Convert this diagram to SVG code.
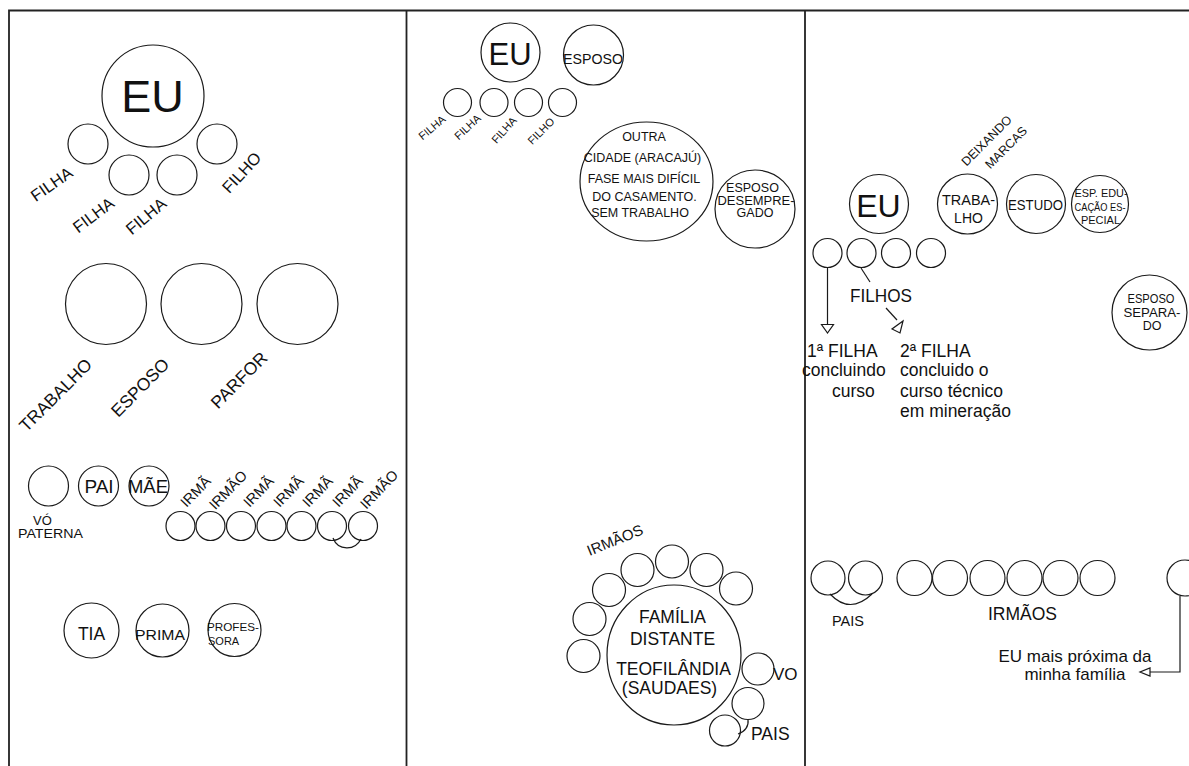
<svg xmlns="http://www.w3.org/2000/svg" width="1189" height="766" viewBox="0 0 1189 766">
<style>
.frame{fill:none;stroke:#222;stroke-width:1.8}
.c{fill:none;stroke:#1a1a1a;stroke-width:1.2}
.ln{fill:none;stroke:#1a1a1a;stroke-width:1.2}
.ah{fill:#fff;stroke:#1a1a1a;stroke-width:1.2}
text{font-family:"Liberation Sans",Arial,sans-serif;fill:#111}
.m{text-anchor:middle}
</style>
<rect width="1189" height="766" fill="#fff"/>
<g id="frame">
<path class="frame" d="M9 780 V10.5 H1195 M406.5 10.5 V780 M805 10.5 V780"/>
</g>

<!-- Panel 1 -->
<g id="p1-eu"><circle class="c" cx="153" cy="96" r="51"/><text class="m" x="152.5" y="112" font-size="45">EU</text></g>
<g id="p1-filha1"><circle class="c" cx="88" cy="144" r="20"/><text class="m" font-size="16.5" transform="translate(51.5,184) rotate(-35)" dy="0.35em">FILHA</text></g>
<g id="p1-filha2"><circle class="c" cx="129" cy="175" r="20"/><text class="m" font-size="16.5" transform="translate(93.5,215) rotate(-37)" dy="0.35em">FILHA</text></g>
<g id="p1-filha3"><circle class="c" cx="177" cy="175" r="20"/><text class="m" font-size="16.5" transform="translate(146,216) rotate(-40)" dy="0.35em">FILHA</text></g>
<g id="p1-filho"><circle class="c" cx="217" cy="144" r="20"/><text class="m" font-size="16.5" transform="translate(241.5,172.5) rotate(-47)" dy="0.35em">FILHO</text></g>

<g id="p1-trabalho"><circle class="c" cx="106" cy="304" r="40.5"/><text class="m" font-size="17.5" transform="translate(55.5,395) rotate(-45)" dy="0.35em">TRABALHO</text></g>
<g id="p1-esposo"><circle class="c" cx="201.5" cy="304" r="40.5"/><text class="m" font-size="17.5" transform="translate(140,387.5) rotate(-45)" dy="0.35em">ESPOSO</text></g>
<g id="p1-parfor"><circle class="c" cx="297.5" cy="304" r="40.5"/><text class="m" font-size="17.5" transform="translate(239,380) rotate(-45)" dy="0.35em">PARFOR</text></g>

<g id="p1-vo"><circle class="c" cx="48.5" cy="486" r="20"/><text x="33" y="525" font-size="13">VÓ</text><text x="18" y="538" font-size="13" textLength="65" lengthAdjust="spacingAndGlyphs">PATERNA</text></g>
<g id="p1-pai"><circle class="c" cx="98.5" cy="486" r="20"/><text class="m" x="99" y="493" font-size="19">PAI</text></g>
<g id="p1-mae"><circle class="c" cx="149" cy="486" r="20"/><text x="128" y="493" font-size="18.5" textLength="40" lengthAdjust="spacingAndGlyphs">MÃE</text></g>

<g id="p1-irma1"><circle class="c" cx="180.5" cy="526" r="14.5"/><text class="m" font-size="14.5" transform="translate(195.5,491.5) rotate(-46)" dy="0.35em">IRMÃ</text></g>
<g id="p1-irmao1"><circle class="c" cx="210.5" cy="526" r="14.5"/><text class="m" font-size="14.5" transform="translate(228,490) rotate(-46)" dy="0.35em">IRMÃO</text></g>
<g id="p1-irma2"><circle class="c" cx="241" cy="526" r="14.5"/><text class="m" font-size="14.5" transform="translate(258.5,491.5) rotate(-46)" dy="0.35em">IRMÃ</text></g>
<g id="p1-irma3"><circle class="c" cx="271.5" cy="526" r="14.5"/><text class="m" font-size="14.5" transform="translate(288.5,491.5) rotate(-46)" dy="0.35em">IRMÃ</text></g>
<g id="p1-irma4"><circle class="c" cx="301.5" cy="526" r="14.5"/><text class="m" font-size="14.5" transform="translate(317.5,491.5) rotate(-46)" dy="0.35em">IRMÃ</text></g>
<g id="p1-irma5"><circle class="c" cx="332" cy="526" r="14.5"/><text class="m" font-size="14.5" transform="translate(347.5,491.5) rotate(-46)" dy="0.35em">IRMÃ</text></g>
<g id="p1-irmao2"><circle class="c" cx="363" cy="526" r="14.5"/><text class="m" font-size="14.5" transform="translate(379,489.5) rotate(-46)" dy="0.35em">IRMÃO</text></g>

<g id="p1-tia"><circle class="c" cx="91.5" cy="630.5" r="27.5"/><text class="m" x="91.5" y="640" font-size="17.5">TIA</text></g>
<g id="p1-prima"><circle class="c" cx="162.5" cy="630.5" r="26.5"/><text x="135" y="640" font-size="15.5" textLength="50" lengthAdjust="spacingAndGlyphs">PRIMA</text></g>
<g id="p1-professora"><circle class="c" cx="234.5" cy="630" r="26.5"/><text x="207" y="631" font-size="11" textLength="52" lengthAdjust="spacingAndGlyphs">PROFES-</text><text x="208" y="645" font-size="11">SORA</text></g>

<!-- Panel 2 -->
<g id="p2-eu"><circle class="c" cx="510.5" cy="52.5" r="29.5"/><text class="m" x="510" y="65" font-size="31">EU</text></g>
<g id="p2-esposo"><circle class="c" cx="593.5" cy="55" r="30"/><text x="563" y="64" font-size="14" textLength="60" lengthAdjust="spacingAndGlyphs">ESPOSO</text></g>
<g id="p2-filha1"><circle class="c" cx="457.5" cy="102.5" r="14"/><text class="m" font-size="11" transform="translate(432,127.5) rotate(-40)" dy="0.35em">FILHA</text></g>
<g id="p2-filha2"><circle class="c" cx="494" cy="102.5" r="14"/><text class="m" font-size="11" transform="translate(467.5,127) rotate(-43)" dy="0.35em">FILHA</text></g>
<g id="p2-filha3"><circle class="c" cx="528.5" cy="102.5" r="14"/><text class="m" font-size="11" transform="translate(504,130) rotate(-48)" dy="0.35em">FILHA</text></g>
<g id="p2-filho"><circle class="c" cx="562.5" cy="102.5" r="14"/><text class="m" font-size="11" transform="translate(541,131) rotate(-45)" dy="0.35em">FILHO</text></g>

<g id="p2-outra-cidade"><ellipse class="c" cx="646.5" cy="181.5" rx="66.5" ry="59.5"/>
<g class="m" font-size="12.5"><text x="644" y="141">OUTRA</text><text x="642.5" y="162">CIDADE (ARACAJÚ)</text><text x="644" y="183">FASE MAIS DIFÍCIL</text><text x="644.5" y="201">DO CASAMENTO.</text><text x="640" y="217">SEM TRABALHO</text></g></g>
<g id="p2-esposo-desempregado"><ellipse class="c" cx="755" cy="209" rx="40" ry="39"/>
<g class="m" font-size="12.5"><text x="752.5" y="192">ESPOSO</text><text x="756" y="204.5" textLength="77" lengthAdjust="spacingAndGlyphs">DESEMPRE-</text><text x="755" y="217">GADO</text></g></g>

<g id="p2-irmaos"><text class="m" font-size="15" transform="translate(615,540) rotate(-22)" dy="0.35em">IRMÃOS</text>
<circle class="c" cx="583.5" cy="656" r="16.5"/><circle class="c" cx="589.5" cy="619" r="16.5"/><circle class="c" cx="609" cy="590" r="16.5"/><circle class="c" cx="637.5" cy="570" r="16.5"/><circle class="c" cx="672" cy="561.5" r="16.5"/><circle class="c" cx="706.5" cy="570" r="16.5"/><circle class="c" cx="736" cy="588.5" r="16.5"/></g>
<g id="p2-familia-distante"><ellipse class="c" cx="674" cy="655" rx="67" ry="70"/>
<g class="m" font-size="17.5"><text x="672.5" y="623">FAMÍLIA</text><text x="672.5" y="645">DISTANTE</text><text x="673.5" y="675">TEOFILÂNDIA</text><text x="669.5" y="694">(SAUDAES)</text></g></g>
<g id="p2-vo"><circle class="c" cx="758" cy="669" r="16"/><text x="773" y="680" font-size="17">VO</text></g>
<g id="p2-pais"><circle class="c" cx="748" cy="703.5" r="16"/><circle class="c" cx="725" cy="730.5" r="15.5"/><path class="ln" d="M738 734 C745 732,749 726,748 719.5"/><text x="751" y="740" font-size="17.5">PAIS</text></g>

<!-- Panel 3 -->
<g id="p3-eu"><circle class="c" cx="879" cy="204" r="29.5"/><text class="m" x="878.5" y="217" font-size="32">EU</text></g>
<g id="p3-trabalho"><circle class="c" cx="967.5" cy="204" r="30"/><text class="m" x="968.5" y="205" font-size="14" textLength="53" lengthAdjust="spacingAndGlyphs">TRABA-</text><text class="m" x="968.5" y="223" font-size="14">LHO</text>
<text class="m" font-size="12.5" transform="translate(986.5,140.5) rotate(-45)" dy="0.35em">DEIXANDO</text><text class="m" font-size="12.5" transform="translate(1006,147.5) rotate(-45)" dy="0.35em">MARCAS</text></g>
<g id="p3-estudo"><circle class="c" cx="1036" cy="204" r="29.5"/><text class="m" x="1035.5" y="210" font-size="14" textLength="55" lengthAdjust="spacingAndGlyphs">ESTUDO</text></g>
<g id="p3-esp-educacao"><circle class="c" cx="1100" cy="204" r="28.5"/><g class="m" font-size="11"><text x="1101" y="197" textLength="53" lengthAdjust="spacingAndGlyphs">ESP. EDU-</text><text x="1100" y="211" textLength="51" lengthAdjust="spacingAndGlyphs">CAÇÃO ES-</text><text x="1100.5" y="224">PECIAL</text></g></g>
<g id="p3-filhos"><circle class="c" cx="827.5" cy="253" r="14.5"/><circle class="c" cx="861.5" cy="253" r="14.5"/><circle class="c" cx="896" cy="253" r="14.5"/><circle class="c" cx="931" cy="253" r="14.5"/><text x="850" y="302" font-size="18" textLength="62" lengthAdjust="spacingAndGlyphs">FILHOS</text></g>
<g id="p3-filha1" font-size="17.5"><text x="807" y="357">1ª FILHA</text><text x="802" y="376">concluindo</text><text x="832" y="397">curso</text></g>
<g id="p3-filha2" font-size="17.5"><text x="900" y="357">2ª FILHA</text><text x="900" y="376">concluido o</text><text x="900" y="397">curso técnico</text><text x="900" y="417">em mineração</text></g>
<g id="p3-esposo-separado"><circle class="c" cx="1149.5" cy="312.5" r="37.5"/><g class="m" font-size="12.5"><text x="1151" y="303" textLength="47" lengthAdjust="spacingAndGlyphs">ESPOSO</text><text x="1152" y="317" textLength="57" lengthAdjust="spacingAndGlyphs">SEPARA-</text><text x="1152" y="330">DO</text></g></g>
<g id="p3-pais"><circle class="c" cx="828" cy="578" r="17"/><circle class="c" cx="865.5" cy="578" r="17"/><path class="ln" d="M830 594 Q850 615 872 594"/><text x="832" y="626" font-size="14" textLength="32" lengthAdjust="spacingAndGlyphs">PAIS</text></g>
<g id="p3-irmaos"><circle class="c" cx="914.5" cy="578" r="17.5"/><circle class="c" cx="950" cy="578" r="17.5"/><circle class="c" cx="987.5" cy="578" r="17.5"/><circle class="c" cx="1024.5" cy="578" r="17.5"/><circle class="c" cx="1060.5" cy="578" r="17.5"/><circle class="c" cx="1097.5" cy="578" r="17.5"/><text x="988" y="620" font-size="17.5">IRMÃOS</text></g>
<g id="p3-eu-proxima"><circle class="c" cx="1185" cy="578" r="18"/><g class="m" font-size="17"><text x="1075" y="662">EU mais próxima da</text><text x="1075" y="680">minha família</text></g></g>

<g id="connectors">
<path class="ln" d="M827.5 268 V324"/><polygon class="ah" points="821.5,324.5 833.5,324.5 827.5,333"/>
<path class="ln" d="M861 268 L870 282"/>
<path class="ln" d="M886 308 L897 320"/><polygon class="ah" points="903,321 900,333 892,329"/>
<path class="ln" d="M1180 596 V672 H1150"/><polygon class="ah" points="1150,668 1150,676 1140,672"/>
<path class="ln" d="M333 538 C338 551,355 551,361 539"/>
</g>
</svg>
